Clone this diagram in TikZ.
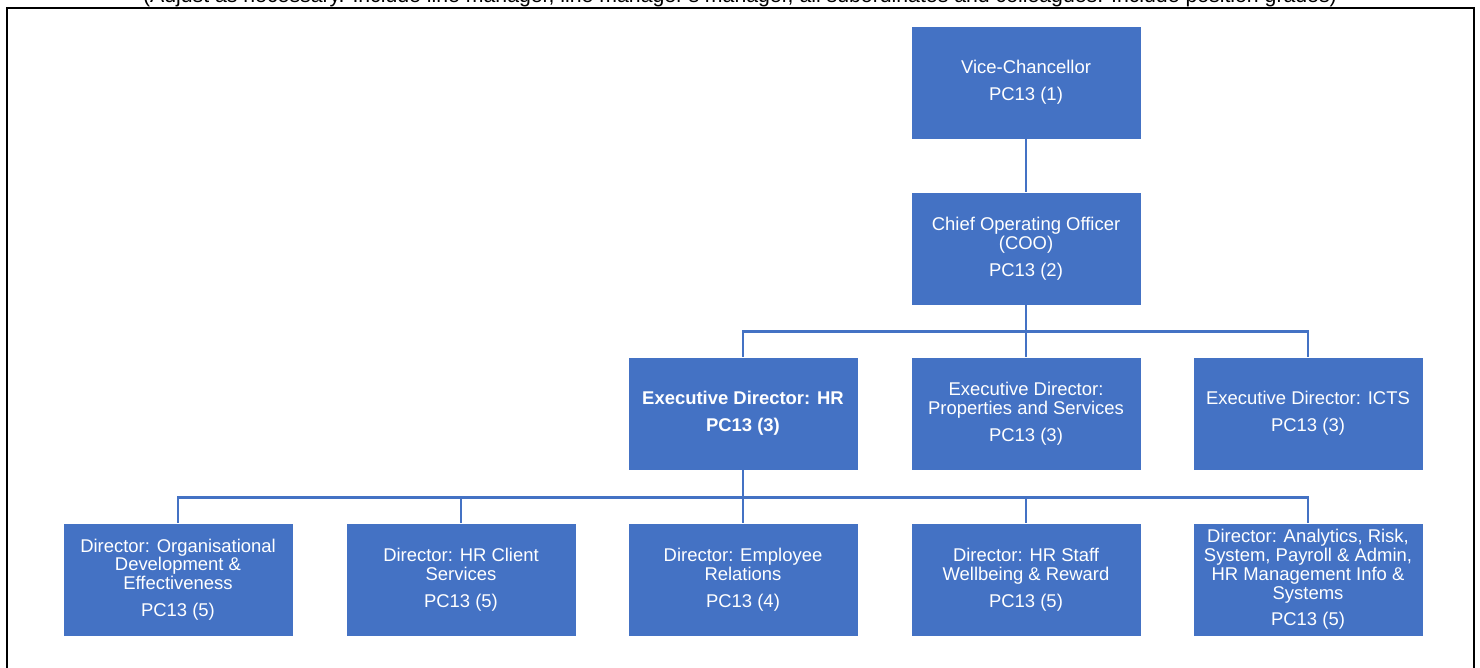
\documentclass[tikz,border=0pt]{standalone}
\usepackage{fontspec}
\setmainfont{Liberation Sans}
\usetikzlibrary{positioning}
\definecolor{ChartBlue}{HTML}{4472C4}

\begin{document}
\begin{tikzpicture}[x=0.02cm,y=-0.02cm,
      post/.style={draw=white,line width=0.4pt,fill=ChartBlue,text=white,
                   minimum width=4.6cm,minimum height=2.26cm,align=center,
                   inner sep=2pt,font=\fontsize{10.5}{10.7}\selectfont},
      hrpost/.style={post,font=\fontsize{10.5}{10.7}\selectfont\bfseries},
      link/.style={draw=ChartBlue,line width=1.6pt},
    ]
    \useasboundingbox (0,0) rectangle (1480,668);
    \draw[line width=1.1pt] (7,8) rectangle (1474,720);
    \node[anchor=base,inner sep=0pt,font=\fontsize{12.1}{14}\selectfont] (note) at (740,2.5)
         {(Adjust as necessary. Include line manager, line manager's manager, all subordinates and colleagues. Include position grades)};

    \node[post]   (vc)  at (1026,82.5)  {Vice-Chancellor\\[4.6pt]PC13 (1)};
    \node[post]   (coo) at (1026,248.5) {Chief Operating Officer\\(COO)\\[4.6pt]PC13 (2)};

    \node[hrpost] (hr)    at (743,413.5)  {Executive Director: HR\\[4.6pt]PC13 (3)};
    \node[post]   (props) at (1026,413.5) {Executive Director:\\Properties and Services\\[4.6pt]PC13 (3)};
    \node[post]   (icts)  at (1308,413.5) {Executive Director: ICTS\\[4.6pt]PC13 (3)};

    \node[post] (odev)      at (178,579.5)  {Director: Organisational\\Development \&\\Effectiveness\\[4.6pt]PC13 (5)};
    \node[post] (client)    at (461,579.5)  {Director: HR Client\\Services\\[4.6pt]PC13 (5)};
    \node[post] (relations) at (743,579.5)  {Director: Employee\\Relations\\[4.6pt]PC13 (4)};
    \node[post] (wellbeing) at (1026,579.5) {Director: HR Staff\\Wellbeing \& Reward\\[4.6pt]PC13 (5)};
    \node[post] (analytics) at (1308,579.5) {Director: Analytics, Risk,\\System, Payroll \& Admin,\\HR Management Info \&\\Systems\\[4.6pt]PC13 (5)};

    % reporting lines
    \draw[link] (vc) -- (coo);
    \draw[link] (coo.south) -- ++(0,26) coordinate (busA);
    \draw[link] (busA) -| (hr.north);
    \draw[link] (busA) -- (props.north);
    \draw[link] (busA) -| (icts.north);

    \draw[link] (hr.south) -- ++(0,27) coordinate (busB);
    \draw[link] (busB) -| (odev.north);
    \draw[link] (busB) -| (client.north);
    \draw[link] (busB) -- (relations.north);
    \draw[link] (busB) -| (wellbeing.north);
    \draw[link] (busB) -| (analytics.north);
  \end{tikzpicture}
\end{document}
